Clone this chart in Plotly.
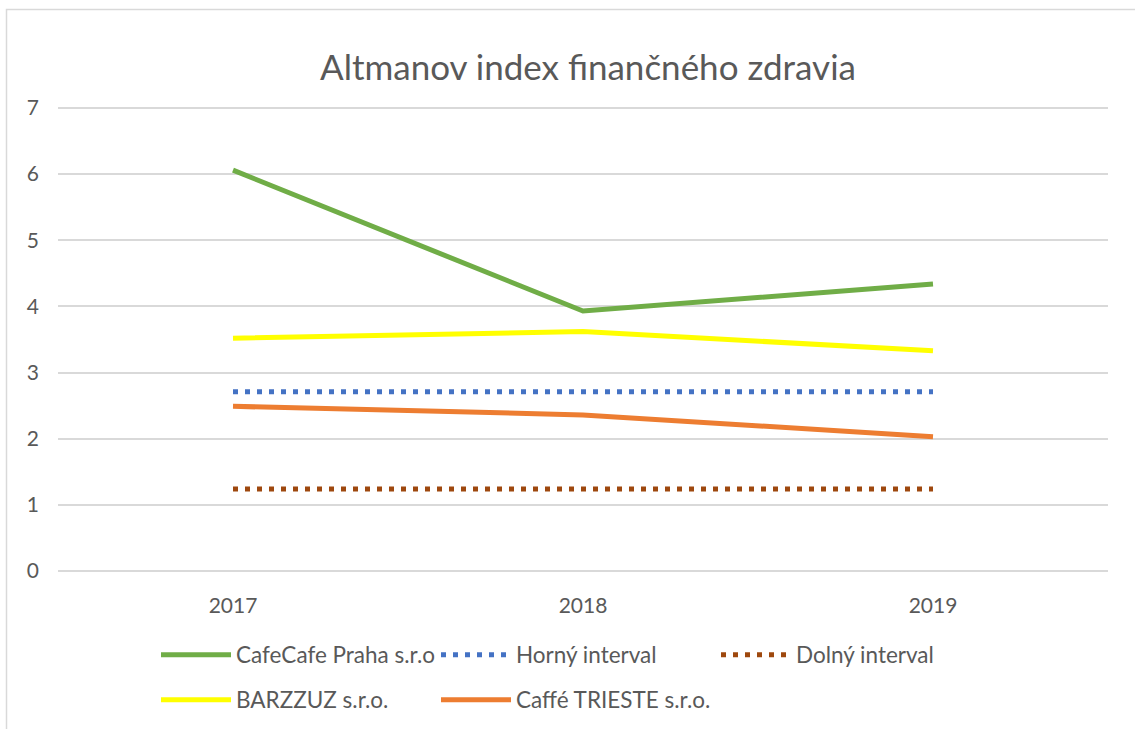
import plotly.graph_objects as go

years = ["2017", "2018", "2019"]
cafecafe = [6.06, 3.93, 4.34]
horny = [2.71, 2.71, 2.71]
dolny = [1.24, 1.24, 1.24]
barzzuz = [3.52, 3.62, 3.33]
trieste = [2.49, 2.36, 2.03]
y_ticks = [0, 1, 2, 3, 4, 5, 6, 7]

W, H = 1135, 729
L, R, T, B = 58, 27, 106, 156
pw, ph = W - L - R, H - T - B

FONT = "Lato"
TXT = "#595959"

fig = go.Figure()
fig.add_trace(go.Scatter(x=years, y=cafecafe, name="CafeCafe Praha s.r.o", mode="lines",
                         line=dict(color="#70AD47", width=5), legend="legend"))
fig.add_trace(go.Scatter(x=years, y=horny, name="Horný interval", mode="lines",
                         line=dict(color="#4472C4", width=5, dash="5px,7px"), legend="legend"))
fig.add_trace(go.Scatter(x=years, y=dolny, name="Dolný interval", mode="lines",
                         line=dict(color="#9E480E", width=5, dash="5px,7px"), legend="legend"))
fig.add_trace(go.Scatter(x=years, y=barzzuz, name="BARZZUZ s.r.o.", mode="lines",
                         line=dict(color="#FFFF00", width=5), legend="legend2"))
fig.add_trace(go.Scatter(x=years, y=trieste, name="Caffé TRIESTE s.r.o.", mode="lines",
                         line=dict(color="#ED7D31", width=5), legend="legend2"))

def px_x(x):
    return (x - L) / pw

def px_y(y):
    return (H - B - y) / ph

legend_common = dict(orientation="h", entrywidth=195, entrywidthmode="pixels",
                     font=dict(family=FONT, size=22.5, color=TXT), bgcolor="rgba(0,0,0,0)",
                     xanchor="left", yanchor="middle", itemwidth=70)

fig.update_layout(
    width=W, height=H,
    margin=dict(l=L, r=R, t=T, b=B, autoexpand=False),
    paper_bgcolor="white", plot_bgcolor="white",
    font=dict(family=FONT, color=TXT),
    title=dict(text="Altmanov index finančného zdravia", xref="container", x=588 / W,
               xanchor="center", yref="container", y=1 - 68 / H, yanchor="middle",
               font=dict(family=FONT, size=35, color=TXT)),
    xaxis=dict(type="category", range=[-0.5, 2.5], showgrid=False, zeroline=False,
               showline=False, ticks="", ticklabelstandoff=18,
               tickfont=dict(family=FONT, size=21, color=TXT)),
    yaxis=dict(range=[-0.03, 7.03], tickvals=y_ticks, showgrid=True, gridcolor="#D9D9D9", gridwidth=1.5,
               zeroline=True, zerolinecolor="#D9D9D9", zerolinewidth=1.5,
               showline=False, ticks="", ticklabelstandoff=18,
               tickfont=dict(family=FONT, size=21, color=TXT)),
    legend=dict(x=px_x(156), y=px_y(655), **legend_common),
    legend2=dict(x=px_x(156), y=px_y(700), **legend_common),
    shapes=[dict(type="rect", xref="paper", yref="paper",
                 x0=px_x(6.5), x1=px_x(1145), y0=px_y(745), y1=px_y(9.5),
                 line=dict(color="#D9D9D9", width=1.5), fillcolor="rgba(0,0,0,0)", layer="below")],
)

fig.write_html("out.html", config={"displayModeBar": False},
               post_script="document.body.style.margin='0';")
